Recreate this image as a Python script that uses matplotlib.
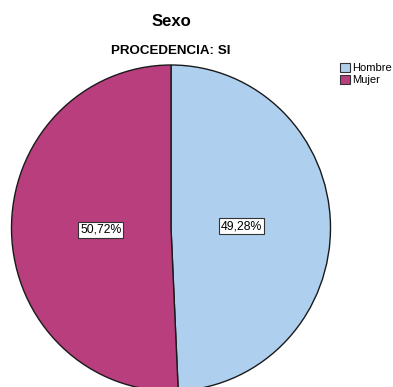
import matplotlib
matplotlib.use("Agg")
import matplotlib.pyplot as plt

# Data
categories = ["Hombre", "Mujer"]
percentages = [49.28, 50.72]
colors = ["#aed0ee", "#b83e7e"]

W, H = 393, 387
fig = plt.figure(figsize=(W / 100, H / 100), dpi=100)
fig.patch.set_facecolor("white")
plt.rcParams["font.family"] = ["Liberation Sans", "DejaVu Sans"]

# Pie geometry in pixels (centre, horizontal / vertical radius)
cx, cy, rx, ry = 171.0, 228.0, 159.5, 163.0

ax = fig.add_axes([0, 0, 1, 1])
wedges, texts, autotexts = ax.pie(
    percentages,
    colors=colors,
    startangle=90,
    counterclock=False,
    radius=1.0,
    autopct=lambda p: f"{p:.2f}%".replace(".", ","),
    pctdistance=0.44,
    wedgeprops=dict(edgecolor="#1a1a1a", linewidth=1.0),
    textprops=dict(fontsize=8.8, color="black"),
)
ax.set_aspect("auto")
ax.set_xlim(-cx / rx, (W - cx) / rx)
ax.set_ylim(-(H - cy) / ry, cy / ry)
ax.axis("off")

for t in autotexts:
    t.set_bbox(dict(boxstyle="square,pad=0.16", facecolor="white",
                    edgecolor="#333333", linewidth=0.8))

fig.text(cx / W, 1 - 22 / H, "Sexo", ha="center", va="center",
         fontsize=12, fontweight="bold")
fig.text(cx / W, 1 - 51 / H, "PROCEDENCIA: SI", ha="center", va="center",
         fontsize=9.6, fontweight="bold")

handles = [plt.Rectangle((0, 0), 1, 1, facecolor=c, edgecolor="#333333", linewidth=0.8)
           for c in colors]
fig.legend(handles, categories, loc="upper left",
           bbox_to_anchor=(340 / W, 1 - 63 / H),
           frameon=False, fontsize=8, handlelength=0.9, handleheight=0.9,
           handletextpad=0.15, labelspacing=0.1, borderpad=0, borderaxespad=0)

fig.savefig("out.png", dpi=100, facecolor="white")
